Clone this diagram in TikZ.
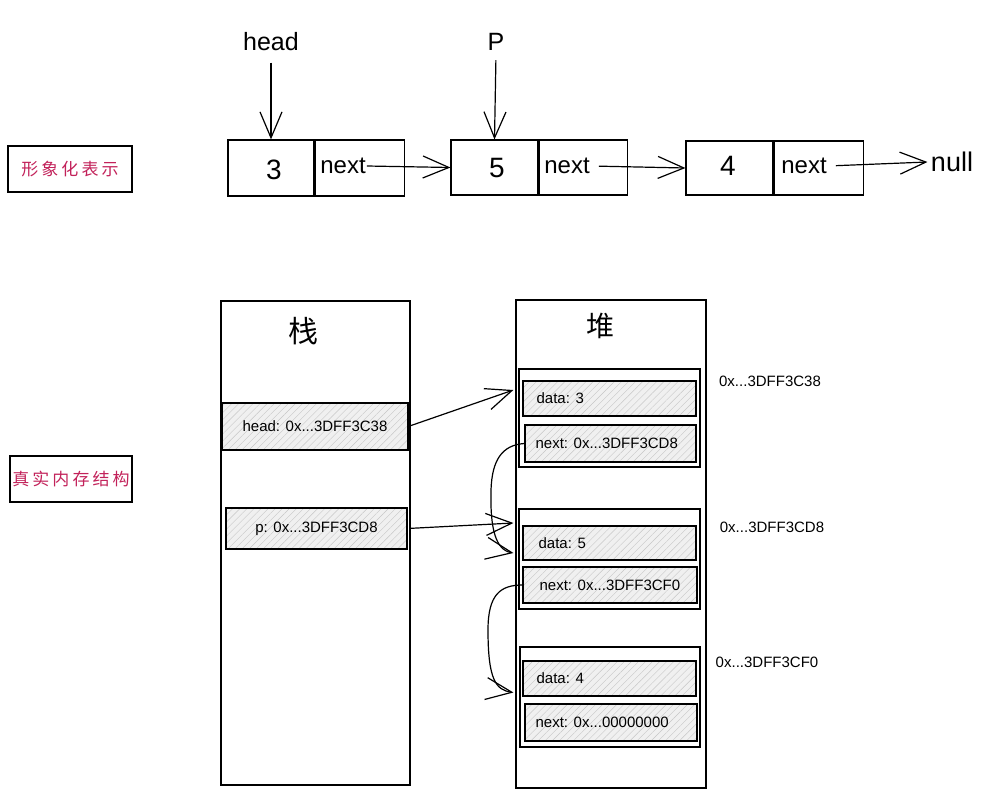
\documentclass[tikz,border=0pt]{standalone}
\usepackage{fontspec}
\setmainfont{Liberation Sans}
\newfontfamily\cjk{Noto Sans CJK SC}
\newfontfamily\cjklbl[LetterSpace=18]{Noto Sans CJK SC}
\usetikzlibrary{arrows.meta,patterns.meta}
\definecolor{lbl}{RGB}{194,34,90}
\begin{document}
\begin{tikzpicture}[x=1pt,y=-1pt,
  box/.style={draw, line width=1.2pt, inner sep=0pt},
  lblbox/.style={draw, line width=1.6pt, inner sep=0pt, text=lbl, font=\cjklbl\fontsize{17}{20}\selectfont},
  hatch/.style={box, preaction={fill=gray!12}, pattern={Lines[angle=45,distance=5pt,line width=0.4pt]}, pattern color=gray!45, font=\fontsize{15}{17}\selectfont},
  big/.style={font=\fontsize{28}{30}\selectfont},
  nx/.style={font=\fontsize{24}{27}\selectfont, inner sep=1pt},
  tx/.style={font=\fontsize{15}{17}\selectfont, anchor=west, inner sep=0pt},
  addr/.style={font=\fontsize{15}{17}\selectfont},
  arr/.style={line width=1.2pt, -{Straight Barb[length=26pt,width=22pt,line width=1.2pt]}},
  ]
\useasboundingbox (0,0) rectangle (986,798);

% left labels
\node[lblbox, minimum width=124pt, minimum height=46pt] (lab1) at (70,169) {形象化表示};
\node[lblbox, minimum width=122pt, minimum height=46pt] (lab2) at (71,479) {真实内存结构};

% top list
\node[box, minimum width=86pt, minimum height=56pt] (n1a) at (271,168) {};
\node[box, minimum width=89pt, minimum height=56pt, anchor=west] (n1b) at (n1a.east) {};
\node[box, minimum width=87pt, minimum height=55pt] (n2a) at (494.5,167.5) {};
\node[box, minimum width=88pt, minimum height=55pt, anchor=west] (n2b) at (n2a.east) {};
\node[box, minimum width=87pt, minimum height=54pt] (n3a) at (729.5,168) {};
\node[box, minimum width=89pt, minimum height=54pt, anchor=west] (n3b) at (n3a.east) {};

\node[big] (v1) at (274,170) {3};
\node[big] (v2) at (497,168) {5};
\node[big] (v3) at (728,166) {4};
\node[nx] (t1) at (343,166) {next};
\node[nx] (t2) at (567,166) {next};
\node[nx] (t3) at (804,166) {next};
\node[font=\fontsize{27}{30}\selectfont] (nul) at (952,162) {null};

\node[font=\fontsize{25}{28}\selectfont] (hd) at (271,42) {head};
\node[font=\fontsize{25}{28}\selectfont] (pp) at (496,42) {P};

\draw[arr, shorten <=8pt] (hd.south) -- (n1a.north);
\draw[arr, shorten <=6pt] (pp.south) -- (n2a.north);
\draw[arr] (t1.east) -- (n2a.west);
\draw[arr, shorten <=8pt] (t2.east) -- (n3a.west);
\draw[arr, shorten <=8pt] (t3.east) -- (nul.west);

% stack
\node[box, minimum width=189pt, minimum height=484pt] (stack) at (315.5,543) {};
\node[font=\cjk\fontsize{30}{32}\selectfont] (stt) at (303,331) {栈};
\node[hatch, minimum width=186pt, minimum height=47pt] (sh) at (315,426.5) {head: 0x...3DFF3C38};
\node[hatch, minimum width=181pt, minimum height=41pt] (sp) at (316.5,528.5) {p: 0x...3DFF3CD8};

% heap
\node[box, minimum width=190pt, minimum height=488pt] (heap) at (611,544) {};
\node[font=\cjk\fontsize{28}{30}\selectfont] (ht) at (600,326) {堆};

\node[box, minimum width=181pt, minimum height=98pt] (Ao) at (609.5,418) {};
\node[hatch, minimum width=173pt, minimum height=35pt] (Ad) at (609.5,398.5) {};
\node[hatch, minimum width=171pt, minimum height=37pt] (An) at (610.5,443.5) {};
\node[tx] at ([xshift=14pt]Ad.west) {data: 3};
\node[tx] at ([xshift=11pt]An.west) {next: 0x...3DFF3CD8};

\node[box, minimum width=181pt, minimum height=100pt] (Bo) at (609.5,559) {};
\node[hatch, minimum width=173pt, minimum height=34pt] (Bd) at (609.5,543) {};
\node[hatch, minimum width=174pt, minimum height=36pt] (Bn) at (610,585) {};
\node[tx] at ([xshift=16pt]Bd.west) {data: 5};
\node[tx] at ([xshift=17pt]Bn.west) {next: 0x...3DFF3CF0};

\node[box, minimum width=180pt, minimum height=100pt] (Co) at (610,697) {};
\node[hatch, minimum width=173pt, minimum height=35pt] (Cd) at (609.5,678.5) {};
\node[hatch, minimum width=172pt, minimum height=37pt] (Cn) at (611,722.5) {};
\node[tx] at ([xshift=14pt]Cd.west) {data: 4};
\node[tx] at ([xshift=11pt]Cn.west) {next: 0x...00000000};

\node[addr] (a1) at (770,381) {0x...3DFF3C38};
\node[addr] (a2) at (772,527) {0x...3DFF3CD8};
\node[addr] (a3) at (767,662) {0x...3DFF3CF0};

% connectors
\draw[arr] (sh.east) -- ([xshift=-5pt,yshift=28pt]Ao.west);
\draw[arr, shorten <=3pt] (sp.east) -- ([xshift=-5pt,yshift=36pt]Bo.west);
\draw[arr] (An.west) .. controls (502,445) and (492,460) .. (491,490)
   .. controls (490,530) and (496,550) .. ([xshift=-9pt,yshift=-10pt]Bd.west);
\draw[arr] (Bn.west) .. controls (500,585) and (488,595) .. (488,630)
   .. controls (488,680) and (496,690) .. ([xshift=-9pt,yshift=-14pt]Cd.west);
\end{tikzpicture}
\end{document}
